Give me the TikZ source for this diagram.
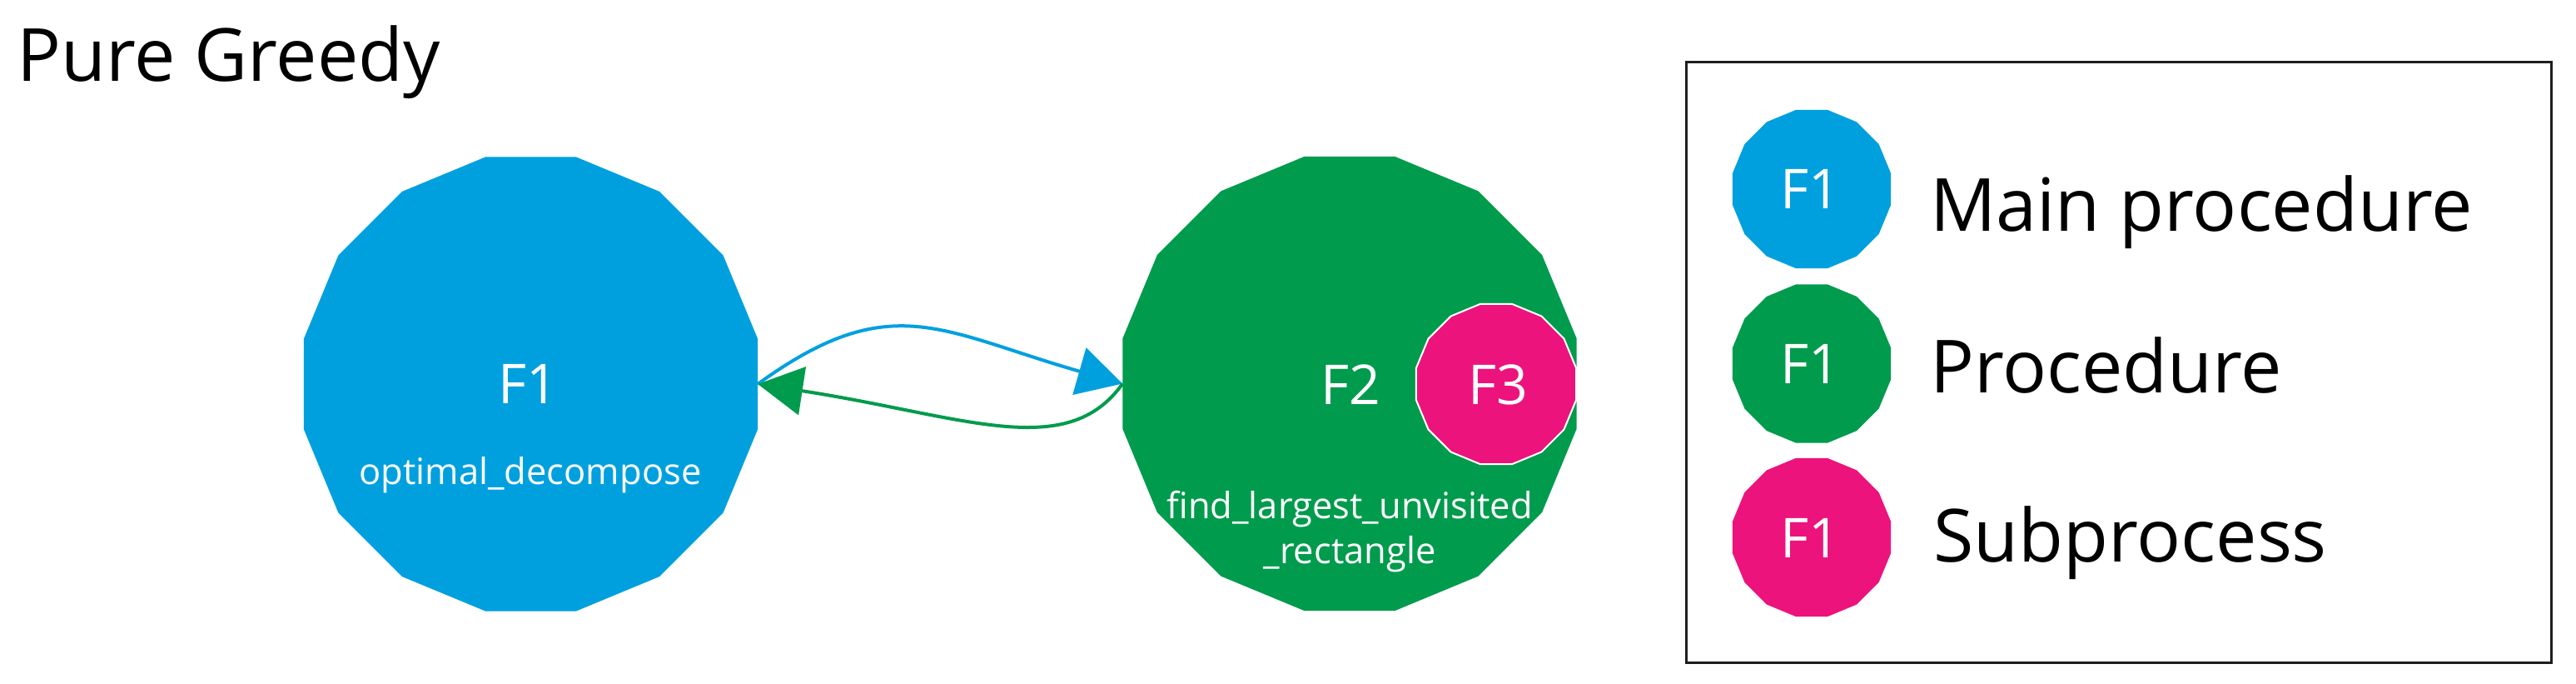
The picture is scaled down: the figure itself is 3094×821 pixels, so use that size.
\documentclass[tikz,border=0pt]{standalone}
\usepackage{fontspec}
\setmainfont{Open Sans}
\usetikzlibrary{shapes.geometric,arrows.meta}
\definecolor{mainblue}{RGB}{0,160,223}
\definecolor{procgreen}{RGB}{0,155,76}
\definecolor{subpink}{RGB}{236,19,125}
\definecolor{boxline}{RGB}{30,30,30}
\tikzset{
  poly/.style={regular polygon, regular polygon sides=16, inner sep=0pt, outer sep=0pt, draw=none},
  bigpoly/.style={poly, minimum size=556pt},
  legpoly/.style={poly, minimum size=194pt},
  flabel/.style={inner sep=0pt, anchor=base, text=white, font=\fontsize{66pt}{70pt}\selectfont},
  namelabel/.style={inner sep=0pt, anchor=base, text=white, align=center, font=\fontsize{43.5pt}{54pt}\selectfont},
  bigtext/.style={inner sep=0pt, anchor=base west, text=black, font=\fontsize{88pt}{100pt}\selectfont},
  callarrow/.style={line width=4pt, -{Triangle[length=54pt 0 0,width=58pt 0 0]}},
}
\begin{document}
\begin{tikzpicture}[x=1pt,y=-1pt]
\useasboundingbox (0,0) rectangle (3094,821);

% title
\node[bigtext] (title) at (20,98) {Pure Greedy};

% main nodes
\node[bigpoly, fill=mainblue] (f1) at (637.5,461) {};
\node[flabel] (f1t) at (634,484) {F1};
\node[namelabel] (f1n) at (637,581) {optimal\_decompose};

\node[bigpoly, fill=procgreen] (f2) at (1621,460.5) {};
\node[flabel] (f2t) at (1622,485) {F2};
\node[namelabel] (f2n) at (1621,622) {find\_largest\_unvisited};
\node[namelabel] (f2m) at (1621,676) {\_rectangle};

\node[poly, minimum size=196pt, fill=subpink, draw=white, line width=2pt] (f3) at (1797,461) {};
\node[flabel] (f3t) at (1799,485) {F3};

% connectors
\draw[callarrow, mainblue] (f1.east) .. controls (1070,345) and (1130,398) .. (f2.west);
\draw[callarrow, procgreen] (f2.west) .. controls (1281,555) and (1157,499) .. (f1.east);

% legend
\node[draw=boxline, line width=3pt, minimum width=1039pt, minimum height=720pt, inner sep=0pt] (legend) at (2544.5,435) {};

\node[legpoly, fill=mainblue] (lb) at (2176,227) {};
\node[flabel] (lbt) at (2174,251) {F1};
\node[bigtext] (lbn) at (2318,277) {Main procedure};

\node[legpoly, fill=procgreen] (lg) at (2176,436.5) {};
\node[flabel] (lgt) at (2174,460) {F1};
\node[bigtext] (lgn) at (2318,471) {Procedure};

\node[legpoly, fill=subpink] (lp) at (2176,645) {};
\node[flabel] (lpt) at (2174,669) {F1};
\node[bigtext] (lpn) at (2322,674) {Subprocess};
\end{tikzpicture}
\end{document}
